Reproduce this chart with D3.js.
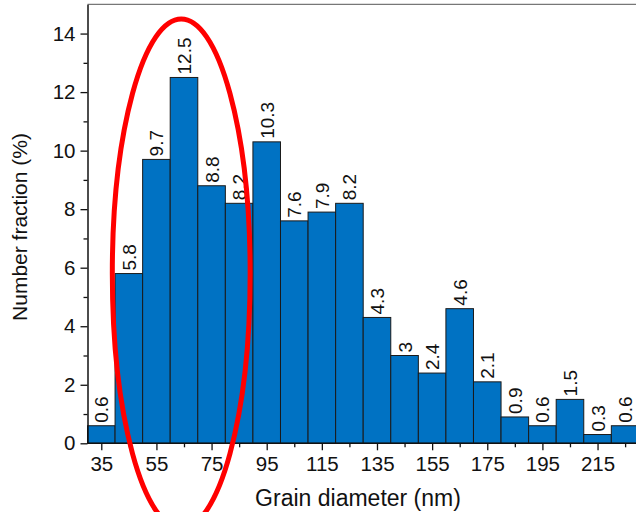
<!DOCTYPE html>
<html>
<head>
<meta charset="utf-8">
<script src="https://cdn.jsdelivr.net/npm/d3@7"></script>
<style>
  body { margin: 0; background: #fff; }
  svg { display: block; font-family: "Liberation Sans", Arial, sans-serif; }
</style>
</head>
<body>
<div id="chart"></div>
<script>
// --- Data ---
const binStarts = [30, 40, 50, 60, 70, 80, 90, 100, 110, 120, 130, 140, 150, 160, 170, 180, 190, 200, 210, 220];
const fractions = [0.6, 5.8, 9.7, 12.5, 8.8, 8.2, 10.3, 7.6, 7.9, 8.2, 4.3, 3, 2.4, 4.6, 2.1, 0.9, 0.6, 1.5, 0.3, 0.6];
const barLabels = ["0.6", "5.8", "9.7", "12.5", "8.8", "8.2", "10.3", "7.6", "7.9", "8.2", "4.3", "3", "2.4", "4.6", "2.1", "0.9", "0.6", "1.5", "0.3", "0.6"];
const xMajorTicks = [35, 55, 75, 95, 115, 135, 155, 175, 195, 215];
const xMinorTicks = [45, 65, 85, 105, 125, 145, 165, 185, 205, 225];
const yMajorTicks = [0, 2, 4, 6, 8, 10, 12, 14];
const yMinorTicks = [1, 3, 5, 7, 9, 11, 13];
// highlighted region (ellipse) in data units: centre and radii
const highlight = { cx: 64, cy: 5.8, rx: 25, ry: 8.7 };

const binWidth = 10;
const W = 636, H = 512;
const plotLeft = 87.5, plotBottom = 443.3, plotTop = 4.3;

const svg = d3.select("#chart").append("svg").attr("width", W).attr("height", H);

const x = d3.scaleLinear().domain([30, 230]).range([plotLeft, plotLeft + 200 * 2.757]);
const y = d3.scaleLinear().domain([0, 15]).range([plotBottom, plotTop]);

// top frame line
svg.append("line")
  .attr("x1", plotLeft).attr("x2", W)
  .attr("y1", plotTop).attr("y2", plotTop)
  .attr("stroke", "#777").attr("stroke-width", 1.2);

// bars
svg.append("g").selectAll("rect")
  .data(fractions)
  .join("rect")
  .attr("x", (d, i) => x(binStarts[i]))
  .attr("width", (d, i) => x(binStarts[i] + binWidth) - x(binStarts[i]))
  .attr("y", (d) => y(d))
  .attr("height", (d) => y(0) - y(d))
  .attr("fill", "#0072c3")
  .attr("stroke", "#1a1a1a")
  .attr("stroke-width", 1);

// bar value labels (rotated)
svg.append("g").selectAll("text")
  .data(fractions)
  .join("text")
  .attr("transform", (d, i) => `translate(${x(binStarts[i] + binWidth / 2) + 7}, ${y(d) - 3}) rotate(-90)`)
  .attr("font-size", 19)
  .attr("fill", "#111")
  .text((d, i) => barLabels[i]);

// x axis
const xAxisG = svg.append("g").attr("transform", `translate(0, ${plotBottom})`);
xAxisG.call(d3.axisBottom(x).tickValues(xMajorTicks).tickSize(7).tickSizeOuter(0).tickPadding(6));
xAxisG.append("g").call(d3.axisBottom(x).tickValues(xMinorTicks).tickSize(4).tickSizeOuter(0).tickFormat(""))
  .select(".domain").remove();
xAxisG.selectAll(".domain").attr("stroke", "#111").attr("stroke-width", 1.5)
  .attr("d", `M${plotLeft},0H${W}`);
xAxisG.selectAll(".tick line").attr("stroke", "#111").attr("stroke-width", 1.3);
xAxisG.selectAll(".tick text").attr("font-size", 20.5).attr("fill", "#111").attr("font-family", "Liberation Sans, Arial, sans-serif");

// y axis
const yAxisG = svg.append("g").attr("transform", `translate(${plotLeft}, 0)`);
yAxisG.call(d3.axisLeft(y).tickValues(yMajorTicks).tickSize(7).tickSizeOuter(0).tickPadding(5));
yAxisG.append("g").call(d3.axisLeft(y).tickValues(yMinorTicks).tickSize(4).tickSizeOuter(0).tickFormat(""))
  .select(".domain").remove();
yAxisG.selectAll(".domain").attr("stroke", "#111").attr("stroke-width", 1.5);
yAxisG.selectAll(".tick line").attr("stroke", "#111").attr("stroke-width", 1.3);
yAxisG.selectAll(".tick text").attr("font-size", 20.5).attr("fill", "#111").attr("font-family", "Liberation Sans, Arial, sans-serif");

// axis titles
svg.append("text")
  .attr("x", 358).attr("y", 506)
  .attr("text-anchor", "middle")
  .attr("font-size", 23).attr("fill", "#111")
  .text("Grain diameter (nm)");

svg.append("text")
  .attr("transform", `translate(27, 227) rotate(-90)`)
  .attr("text-anchor", "middle")
  .attr("font-size", 21).attr("fill", "#111")
  .text("Number fraction (%)");

// red highlight ellipse
svg.append("ellipse")
  .attr("cx", x(highlight.cx))
  .attr("cy", y(highlight.cy))
  .attr("rx", x(highlight.cx + highlight.rx) - x(highlight.cx))
  .attr("ry", y(0) - y(highlight.ry))
  .attr("fill", "none")
  .attr("stroke", "#ff0000")
  .attr("stroke-width", 5);
</script>
</body>
</html>
